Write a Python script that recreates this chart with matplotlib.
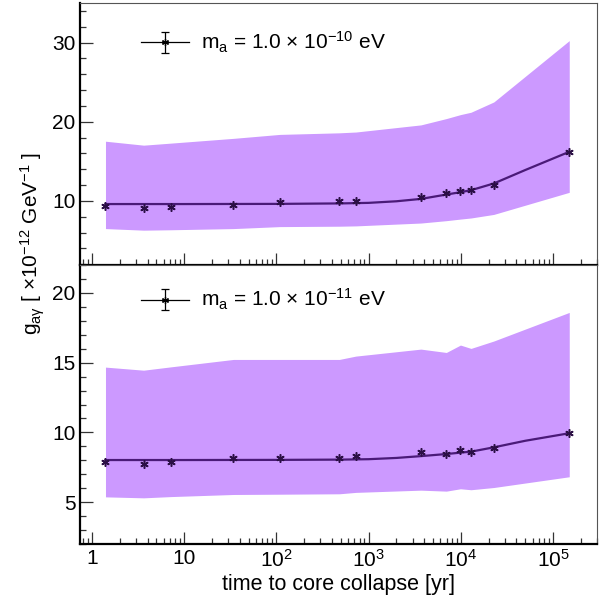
import math

import matplotlib
matplotlib.use("Agg")
import matplotlib.pyplot as plt
from matplotlib.ticker import FixedLocator, FuncFormatter, LogLocator, MultipleLocator, NullFormatter

plt.rcParams["font.family"] = ["Liberation Sans", "DejaVu Sans"]
plt.rcParams["mathtext.fontset"] = "custom"
plt.rcParams["mathtext.rm"] = "Liberation Sans"
plt.rcParams["mathtext.it"] = "Liberation Sans"
plt.rcParams["mathtext.default"] = "regular"

# time to core collapse [yr]
t_yr = [1.4, 3.63, 7.2, 34.2, 109, 482, 728, 3690, 6970, 9910, 12900, 22800, 150000]

# m_a = 1e-10 eV
g10_pts = [9.41, 9.13, 9.25, 9.54, 9.83, 10.0, 10.0, 10.54, 11.0, 11.2, 11.33, 12.04, 16.17]
g10_hi = [17.54, 17.04, 17.3, 17.9, 18.4, 18.6, 18.7, 19.6, 20.4, 20.9, 21.2, 22.5, 30.25]
g10_lo = [6.5, 6.3, 6.35, 6.5, 6.75, 6.8, 6.84, 7.2, 7.5, 7.7, 7.84, 8.29, 11.08]

# m_a = 1e-11 eV
g11_pts = [7.87, 7.73, 7.85, 8.16, 8.14, 8.16, 8.31, 8.57, 8.45, 8.71, 8.57, 8.86, 9.94]
g11_hi = [14.68, 14.46, 14.7, 15.23, 15.23, 15.23, 15.47, 15.97, 15.73, 16.26, 16.02, 16.55, 18.6]
g11_lo = [5.38, 5.31, 5.4, 5.55, 5.57, 5.6, 5.7, 5.86, 5.79, 5.96, 5.89, 6.05, 6.82]

# smooth fit curves
fit_t = [1.4, 10, 100, 500, 1000, 2000, 3690, 6970, 9910, 12900, 22800, 50000, 150000]
fit10 = [9.6, 9.6, 9.62, 9.68, 9.75, 9.95, 10.25, 10.8, 11.1, 11.35, 12.2, 13.9, 16.2]
fit11 = [8.02, 8.02, 8.03, 8.05, 8.08, 8.17, 8.3, 8.45, 8.55, 8.62, 8.93, 9.4, 9.94]

BAND = "#cc99ff"
LINE = "#4a1a78"
MARK = "#2b0f45"
FS = 15


def xfmt(v, pos):
    if v < 5:
        return "1"
    if v < 50:
        return "10"
    return rf"10$^{{{int(round(math.log10(v)))}}}$"


def panel(ax, pts, lo, hi, fit, label, ylim, major, minor, leg_y):
    ax.fill_between(t_yr, lo, hi, color=BAND, lw=0)
    ax.plot(fit_t, fit, color=LINE, lw=1.6, zorder=3)
    ax.plot(t_yr, pts, ls="none", marker=(6, 2, 0), ms=6, mew=1.1, color=MARK, zorder=4)
    # legend proxy, placed outside the visible range
    h = ax.errorbar([1e-6], [-100], yerr=[1.0], color="black", lw=0.9, marker=(6, 2, 0),
                    ms=5, mew=0.9, capsize=3, elinewidth=0.9)
    ax.legend([h], [label], loc="center left", bbox_to_anchor=(0.118, leg_y), frameon=False,
              handlelength=2.3, handletextpad=0.55, borderpad=0, borderaxespad=0, fontsize=FS)
    ax.set_xscale("log")
    ax.set_xlim(0.75, 3.0e5)
    ax.set_ylim(*ylim)
    ax.yaxis.set_major_locator(MultipleLocator(major))
    ax.yaxis.set_minor_locator(MultipleLocator(minor))
    ax.xaxis.set_major_locator(FixedLocator([1, 10, 1e2, 1e3, 1e4, 1e5]))
    ax.xaxis.set_minor_locator(LogLocator(base=10, subs=range(2, 10), numticks=20))
    ax.xaxis.set_minor_formatter(NullFormatter())
    ax.tick_params(which="both", direction="in", top=False, right=False, labelsize=FS,
                   width=0.9, color="#333333")
    ax.tick_params(which="major", length=9)
    ax.tick_params(which="minor", length=4.5)
    ax.spines["left"].set_linewidth(1.6)
    ax.spines["bottom"].set_linewidth(1.6)
    for s in ("top", "right"):
        ax.spines[s].set_linewidth(0.8)
        ax.spines[s].set_color("#555555")


fig = plt.figure(figsize=(6.02, 6.05), dpi=100)
ax1 = fig.add_axes([0.1337, 0.562, 0.8580, 0.433])
ax2 = fig.add_axes([0.1337, 0.1008, 0.8580, 0.4612])

panel(ax1, g10_pts, g10_lo, g10_hi, fit10, r"m$_{a}$ = 1.0 $\times$ 10$^{-10}$ eV", (1.9, 35), 10, 2, 0.85)
panel(ax2, g11_pts, g11_lo, g11_hi, fit11, r"m$_{a}$ = 1.0 $\times$ 10$^{-11}$ eV", (2, 22), 5, 1, 0.875)

ax1.tick_params(axis="x", labelbottom=False)
ax2.xaxis.set_major_formatter(FuncFormatter(xfmt))
ax2.set_xlabel("time to core collapse [yr]", fontsize=FS + 0.5, labelpad=2)

fig.text(0.055, 0.598, r"g$_{a\gamma}$ [ $\times$10$^{-12}$ GeV$^{-1}$ ]", rotation=90,
         ha="center", va="center", fontsize=FS)

fig.savefig("out.png", dpi=100)
